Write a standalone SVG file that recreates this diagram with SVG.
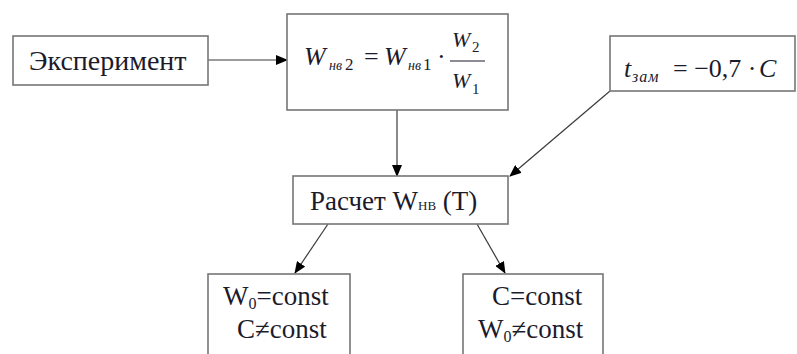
<svg xmlns="http://www.w3.org/2000/svg" width="797" height="354" viewBox="0 0 797 354">
<style>
.box{fill:#fff;stroke:#767676;stroke-width:1.6}
.t{font-family:"Liberation Serif","Times New Roman",serif;fill:#1b1b2b}
.i{font-style:italic}
.c{stroke:#3a3a3a;stroke-width:1.2;fill:none}
</style>
<defs>
<marker id="ah" markerWidth="12" markerHeight="10" refX="11" refY="5" orient="auto" markerUnits="userSpaceOnUse">
<path d="M0,0 L12,5 L0,10 z" fill="#000"/>
</marker>
</defs>
<rect width="797" height="354" fill="#fff"/>
<g id="connectors">
<line class="c" x1="208" y1="60" x2="287" y2="60" marker-end="url(#ah)"/>
<line class="c" x1="397" y1="110" x2="397" y2="176" marker-end="url(#ah)"/>
<line class="c" x1="610" y1="91" x2="510" y2="176" marker-end="url(#ah)"/>
<line class="c" x1="328" y1="224" x2="295" y2="273" marker-end="url(#ah)"/>
<line class="c" x1="477" y1="224" x2="505" y2="273" marker-end="url(#ah)"/>
</g>
<g id="experiment">
<rect class="box" x="13" y="36" width="195" height="49"/>
<text class="t" x="29" y="70" font-size="28">Эксперимент</text>
</g>
<g id="formula">
<rect class="box" x="287" y="14" width="221" height="96"/>
<text class="t i" x="304" y="65" font-size="26">W</text>
<text class="t i" x="329" y="70" font-size="14">нв</text>
<text class="t" x="345" y="70" font-size="17">2</text>
<text class="t" x="364" y="65" font-size="26">=</text>
<text class="t i" x="384" y="65" font-size="26">W</text>
<text class="t i" x="408" y="70" font-size="14">нв</text>
<text class="t" x="423" y="70" font-size="17">1</text>
<text class="t" x="437" y="65" font-size="26">·</text>
<text class="t i" x="452" y="47" font-size="22">W</text>
<text class="t" x="472" y="52" font-size="15">2</text>
<line x1="450" y1="61" x2="485" y2="61" stroke="#1b1b2b" stroke-width="1.2"/>
<text class="t i" x="452" y="88" font-size="22">W</text>
<text class="t" x="472" y="94" font-size="15">1</text>
</g>
<g id="tzam">
<rect class="box" x="610" y="36" width="185" height="55"/>
<text class="t i" x="624" y="77" font-size="26">t</text>
<text class="t i" x="632" y="82" font-size="16" letter-spacing="1">зам</text>
<text class="t" x="673" y="77" font-size="26">= −0,7 ·</text>
<text class="t i" x="759" y="77" font-size="26">C</text>
</g>
<g id="raschet">
<rect class="box" x="293" y="176" width="215" height="48"/>
<text class="t" x="310" y="210" font-size="27">Расчет W<tspan font-size="13">НВ</tspan> (T)</text>
</g>
<g id="case1">
<rect class="box" x="208" y="274" width="142" height="90"/>
<text class="t" x="223" y="305" font-size="27">W<tspan font-size="16" dy="4">0</tspan><tspan dy="-4">=const</tspan></text>
<text class="t" x="237" y="338" font-size="27">C≠const</text>
</g>
<g id="case2">
<rect class="box" x="463" y="274" width="140" height="90"/>
<text class="t" x="492" y="305" font-size="27">C=const</text>
<text class="t" x="478" y="338" font-size="27">W<tspan font-size="16" dy="4">0</tspan><tspan dy="-4">≠const</tspan></text>
</g>
</svg>
